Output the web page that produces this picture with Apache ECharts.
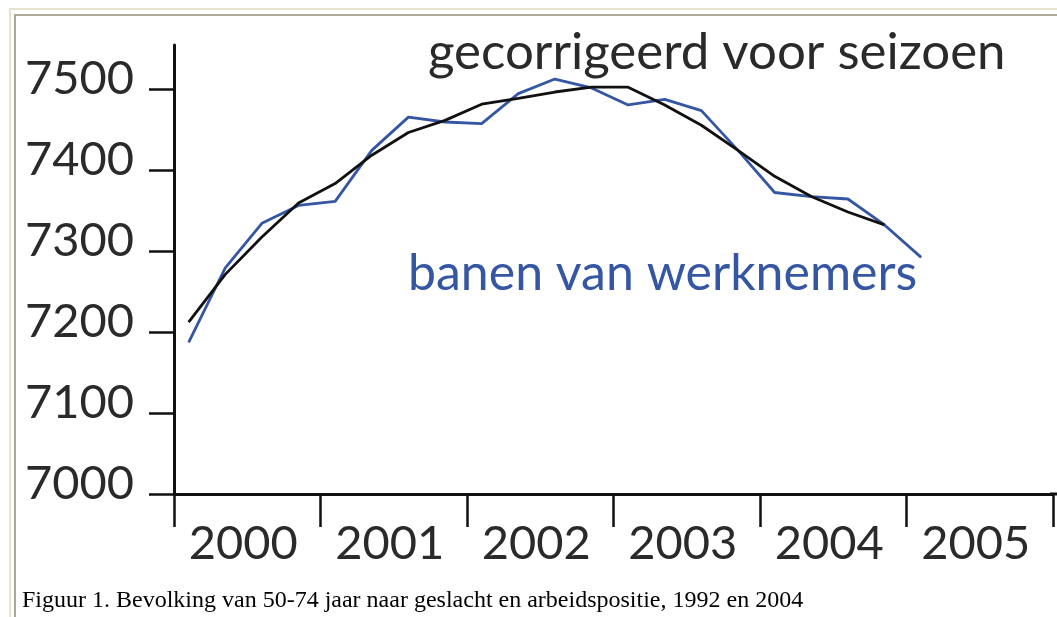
<!DOCTYPE html>
<html><head><meta charset="utf-8">
<script src="https://cdn.jsdelivr.net/npm/echarts@6/dist/echarts.min.js"></script>
<style>html,body{margin:0;padding:0;background:#fff;width:1057px;height:617px;overflow:hidden}#c{width:1057px;height:617px}</style>
</head><body><div id="c"></div><script>
// ---- data ----
const years = ['2000', '2001', '2002', '2003', '2004', '2005'];
const yTicks = [7000, 7100, 7200, 7300, 7400, 7500];
const quarters = ['2000K1','2000K2','2000K3','2000K4','2001K1','2001K2','2001K3','2001K4',
  '2002K1','2002K2','2002K3','2002K4','2003K1','2003K2','2003K3','2003K4',
  '2004K1','2004K2','2004K3','2004K4','2005K1'];
const banenVanWerknemers = [7187, 7279, 7334, 7356, 7361, 7424, 7465, 7459, 7457, 7494, 7512,
  7501, 7480, 7487, 7473, 7424, 7372, 7367, 7364, 7332, 7292];
const gecorrigeerdVoorSeizoen = [7212, 7271, 7317, 7359, 7383, 7418, 7446, 7461, 7481, 7488,
  7496, 7502, 7502, 7480, 7455, 7424, 7392, 7367, 7348, 7332];
const labelSeizoen = 'gecorrigeerd voor seizoen';
const labelBanen = 'banen van werknemers';
const caption = 'Figuur 1. Bevolking van 50-74 jaar naar geslacht en arbeidspositie, 1992 en 2004';

// quarter label -> time in years (points sit early in each quarter)
function qTime(q) { const y = +q.slice(0, 4), k = +q.slice(5); return y + (k - 1) / 4 + 0.1; }
const toPairs = vals => vals.map((v, i) => [qTime(quarters[i]), v]);

const BLUE = '#3556a3';
const FONT = 'Lato';
const chart = echarts.init(document.getElementById('c'), null, { renderer: 'canvas' });
chart.setOption({
  animation: false,
  backgroundColor: '#fff',
  grid: { left: 174, right: 4, top: 45, bottom: 123, containLabel: false, outerBoundsMode: 'none' },
  xAxis: [{
    type: 'category', data: years, boundaryGap: true,
    axisLine: { lineStyle: { color: '#111', width: 3 } },
    axisTick: { show: true, length: 33, lineStyle: { color: '#111', width: 2.5 } },
    axisLabel: { fontFamily: FONT, fontSize: 47, color: '#2a2a2a', margin: 26, padding: [0, 8, 0, 0] },
    splitLine: { show: false }
  }, {
    type: 'value', min: 2000, max: 2006, show: false
  }],
  yAxis: {
    type: 'value', min: 7000, max: 7554,
    axisLine: { show: true, lineStyle: { color: '#111', width: 3 } },
    axisTick: { show: true, length: 25, customValues: yTicks, lineStyle: { color: '#111', width: 2.5 } },
    axisLabel: {
      customValues: yTicks, formatter: v => String(v),
      fontFamily: FONT, fontSize: 47, color: '#2a2a2a', margin: 40,
      verticalAlign: 'bottom', lineHeight: 20
    },
    splitLine: { show: false }
  },
  series: [{
    type: 'line', xAxisIndex: 1, data: toPairs(banenVanWerknemers), showSymbol: false,
    lineStyle: { color: BLUE, width: 2.8 }, z: 2
  }, {
    type: 'line', xAxisIndex: 1, data: toPairs(gecorrigeerdVoorSeizoen), showSymbol: false,
    lineStyle: { color: '#111', width: 2.8 }, z: 3
  }],
  graphic: [
    { type: 'rect', shape: { x: 10, y: 9, width: 1200, height: 800 }, style: { fill: null, stroke: '#e6e2d0', lineWidth: 2 }, silent: true },
    { type: 'rect', shape: { x: 15, y: 15, width: 1200, height: 800 }, style: { fill: null, stroke: '#aca899', lineWidth: 2 }, silent: true },
    { type: 'line', shape: { x1: 1050, y1: 494, x2: 1060, y2: 494 }, style: { stroke: '#111', lineWidth: 3 }, silent: true },
    { type: 'text', x: 428, y: 53, style: { text: labelSeizoen, font: '51px ' + FONT, fill: '#2a2a2a', verticalAlign: 'middle' } },
    { type: 'text', x: 408, y: 274, style: { text: labelBanen, font: '50px ' + FONT, fill: BLUE, verticalAlign: 'middle' } },
    { type: 'text', x: 22, y: 601, style: { text: caption, font: '24px "Liberation Serif"', fill: '#000', verticalAlign: 'middle' } }
  ]
});
</script></body></html>
